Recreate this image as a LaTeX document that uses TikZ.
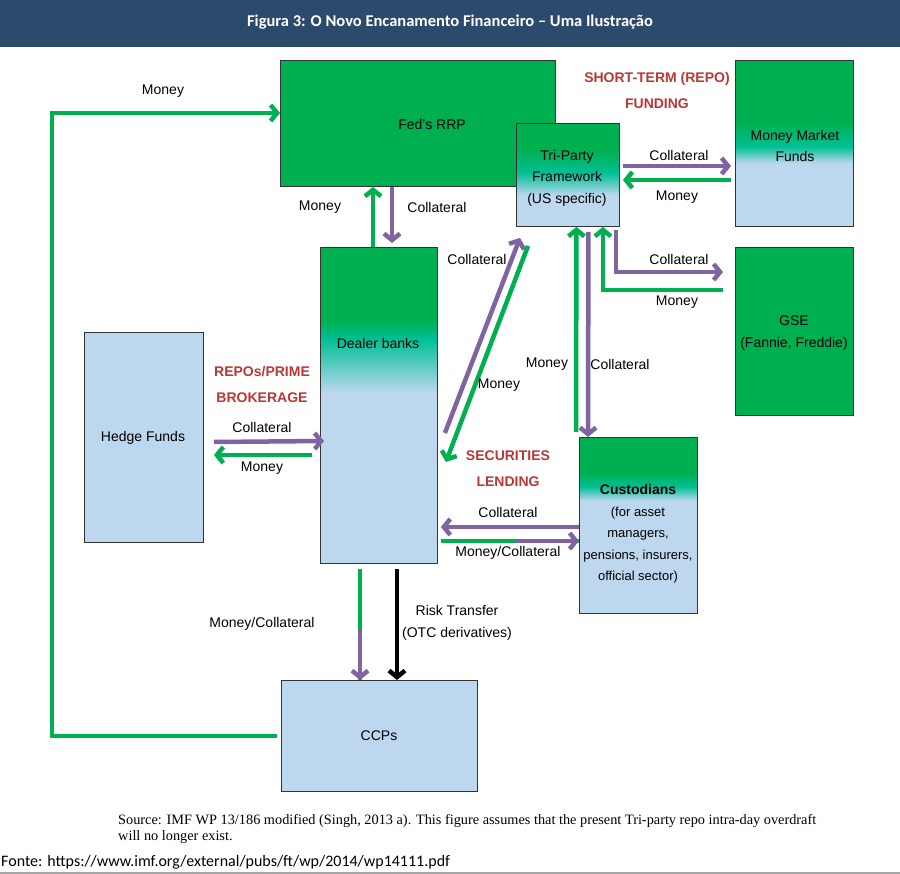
\documentclass[tikz,border=0pt]{standalone}
\usepackage{fontspec}
\setmainfont{Liberation Sans}
\newfontfamily\titlefont{Carlito}
\newfontfamily\notefont{Liberation Serif}
\usepackage{tikz}
\usetikzlibrary{arrows.meta,positioning,calc}

\definecolor{fgreen}{RGB}{0,176,80}
\definecolor{tealc}{RGB}{0,192,150}
\definecolor{lblue}{RGB}{189,215,238}
\definecolor{purp}{RGB}{128,100,162}
\definecolor{redlab}{RGB}{185,55,52}
\definecolor{barblue}{RGB}{44,74,107}

% vertical green -> teal -> light blue fills
\newcommand{\boxshading}[4]{%
  \pgfdeclareverticalshading{#1}{100bp}{color(0bp)=(lblue); color(#4bp)=(lblue);
    color(#3bp)=(tealc); color(#2bp)=(fgreen); color(100bp)=(fgreen)}}
\boxshading{dealershade}{63.5}{60.5}{52}
\boxshading{mmfshade}{56.5}{49}{44}
\boxshading{trishade}{62}{51}{40}
\boxshading{custshade}{65}{61}{57}

\begin{document}
\begin{tikzpicture}[x=1pt, y=-1pt,
    box/.style={draw=black!80, line width=0.9pt, anchor=north west, inner sep=0pt},
    greenbox/.style={box, fill=fgreen},
    bluebox/.style={box, fill=lblue},
    gradbox/.style={box, shade, shading=#1},
    lbl/.style={font=\fontsize{14}{21.5}\selectfont, align=center, inner sep=0pt},
    redlbl/.style={lbl, font=\fontsize{14}{26}\selectfont\bfseries, text=redlab},
    tip/.style={-{Straight Barb[length=6.5pt,width=16pt]}},
    gline/.style={fgreen, line width=4.5pt},
    pline/.style={purp, line width=4.5pt},
    garrow/.style={gline, tip},
    parrow/.style={pline, tip},
    karrow/.style={black, line width=4.5pt, tip}]
    \useasboundingbox (0,0) rectangle (900,874);

    % Title bar
    \fill[barblue] (0,0) rectangle (900,47);
    \node[text=white, font=\titlefont\bfseries\fontsize{16.5}{18}\selectfont] (title) at (450,22)
        {Figura 3: O Novo Encanamento Financeiro – Uma Ilustração};

    % Boxes
    \node[greenbox, minimum width=275pt, minimum height=126pt] (fed) at (280,60) {};
    \node[gradbox=mmfshade, minimum width=118pt, minimum height=166pt] (mmf) at (735,60) {};
    \node[greenbox, minimum width=118pt, minimum height=168pt] (gse) at (735,247) {};
    \node[gradbox=dealershade, minimum width=117pt, minimum height=316pt] (dealer) at (320,247) {};
    \node[bluebox, minimum width=119pt, minimum height=210pt] (hedge) at (84,332) {};
    \node[gradbox=custshade, minimum width=118pt, minimum height=176pt] (cust) at (579,437) {};
    \node[bluebox, minimum width=196pt, minimum height=111pt] (ccp) at (281,680) {};
    \node[gradbox=trishade, minimum width=103pt, minimum height=103pt] (tri) at (516,123) {};

    % Box texts
    \node[lbl] (fedtxt) at (432,124) {Fed's RRP};
    \node[lbl] (tritxt) at (567,178) {Tri-Party\\Framework\\(US specific)};
    \node[lbl] (mmftxt) at (795,146) {Money Market\\Funds};
    \node[lbl] (gsetxt) at (794,333) {GSE\\(Fannie, Freddie)};
    \node[lbl] (dealertxt) at (378,343) {Dealer banks};
    \node[lbl] (hedgetxt) at (143,438) {Hedge Funds};
    \node[lbl, font=\fontsize{13}{21.5}\selectfont] (custtxt) at (638,534)
        {\fontsize{14}{21.5}\selectfont\textbf{Custodians}\\(for asset\\managers,\\pensions, insurers,\\official sector)};
    \node[lbl] (ccptxt) at (379,736) {CCPs};

    % Market labels
    \node[redlbl] (repolbl) at (657,90) {SHORT-TERM (REPO)\\FUNDING};
    \node[redlbl] (primelbl) at (262,384) {REPOs/PRIME\\BROKERAGE};
    \node[redlbl] (seclbl) at (508,469) {SECURITIES\\LENDING};

    % CCPs back to Fed's RRP
    \coordinate (loopc) at (52,113);
    \draw[gline] ([xshift=-4pt]ccp.west) -| (loopc);
    \draw[garrow] ([xshift=-2.25pt]loopc) -- (loopc -| fed.west);
    \node[lbl] (loopm) at (163,91) {Money};

    % Fed's RRP <-> Dealer banks
    \draw[garrow] ([xshift=53pt]dealer.north west) -- ([xshift=93pt]fed.south west);
    \draw[parrow] ([xshift=112pt]fed.south west) -- ([xshift=72pt,yshift=4pt]dealer.north west);
    \node[lbl] (fedm) at (320,207) {Money};
    \node[lbl] (fedc) at (437,207) {Collateral};

    % Tri-Party <-> Money Market Funds
    \draw[parrow] ([xshift=3pt,yshift=-43pt]tri.north east) -- ([xshift=-4pt,yshift=-106pt]mmf.north west);
    \draw[garrow] ([xshift=-4pt,yshift=-120pt]mmf.north west) -- ([xshift=3pt,yshift=-57pt]tri.north east);
    \node[lbl] (mmfc) at (679,155) {Collateral};
    \node[lbl] (mmfm) at (677,197) {Money};

    % Tri-Party <-> GSE
    \draw[parrow] ([xshift=-4pt,yshift=-3pt]tri.south east) |- ([xshift=-12pt,yshift=-25pt]gse.north west);
    \draw[garrow] ([xshift=-12pt,yshift=-43pt]gse.north west) -| ([xshift=-17pt]tri.south east);
    \node[lbl] (gsec) at (679,259) {Collateral};
    \node[lbl] (gsem) at (677,302) {Money};

    % Tri-Party <-> Custodians
    \draw[garrow] ([xshift=-3pt,yshift=5pt]cust.north west) -- ([xshift=8.5pt]tri.south);
    \draw[parrow] ([xshift=20.5pt,yshift=-5pt]tri.south) -- ([xshift=9pt]cust.north west);
    \node[lbl] (custm) at (547,364) {Money};
    \node[lbl] (custc) at (620,364) {Collateral};

    % Dealer banks <-> Tri-Party
    \draw[parrow] ([xshift=7pt,yshift=-186pt]dealer.north east) -- ([xshift=4pt,yshift=-11pt]tri.south west);
    \draw[garrow] ([xshift=12pt,yshift=-19pt]tri.south west) -- ([xshift=8pt,yshift=-215pt]dealer.north east);
    \node[lbl] (diagc) at (477,259) {Collateral};
    \node[lbl] (diagm) at (499,385) {Money};

    % Hedge Funds <-> Dealer banks
    \draw[parrow] ([xshift=10pt,yshift=-110pt]hedge.north east) -- ([xshift=4pt,yshift=-194pt]dealer.north west);
    \draw[garrow] ([xshift=-8pt,yshift=-208pt]dealer.north west) -- ([xshift=10pt,yshift=-123pt]hedge.north east);
    \node[lbl] (hedgec) at (262,427) {Collateral};
    \node[lbl] (hedgem) at (262,468) {Money};

    % Custodians <-> Dealer banks
    \draw[parrow] ([yshift=-90pt]cust.north west) -- ([xshift=3pt,yshift=-280pt]dealer.north east);
    \draw[gline] ([xshift=3pt,yshift=-294pt]dealer.north east) -- coordinate[pos=0.54] (seccut) ([yshift=-104pt]cust.north west);
    \draw[parrow] (seccut) -- ([yshift=-104pt]cust.north west);
    \node[lbl] (secc) at (508,512) {Collateral};
    \node[lbl] (secm) at (508,553) {Money/Collateral};

    % Dealer banks -> CCPs
    \draw[gline] ([xshift=40pt,yshift=-5pt]dealer.south west) -- coordinate[pos=0.55] (ccpcut) ([xshift=79pt]ccp.north west);
    \draw[parrow] (ccpcut) -- ([xshift=79pt]ccp.north west);
    \draw[karrow] ([xshift=77pt,yshift=-5pt]dealer.south west) -- ([xshift=116pt]ccp.north west);
    \node[lbl] (ccpm) at (262,624) {Money/Collateral};
    \node[lbl] (risk) at (457,623) {Risk Transfer\\(OTC derivatives)};

    % Source notes
    \node[anchor=north west, align=left, inner sep=0pt, font=\notefont\fontsize{14.3}{16}\selectfont] (src) at (118,814)
        {Source: IMF WP 13/186 modified (Singh, 2013 a). This figure assumes that the present Tri-party repo intra-day overdraft\\will no longer exist.};
    \node[anchor=west, inner sep=0pt, font=\titlefont\fontsize{16}{18}\selectfont] (fonte) at (1,862)
        {Fonte: https://www.imf.org/external/pubs/ft/wp/2014/wp14111.pdf};
    \draw[black!35, line width=1.2pt] (0,873) -- (900,873);
\end{tikzpicture}
\end{document}
